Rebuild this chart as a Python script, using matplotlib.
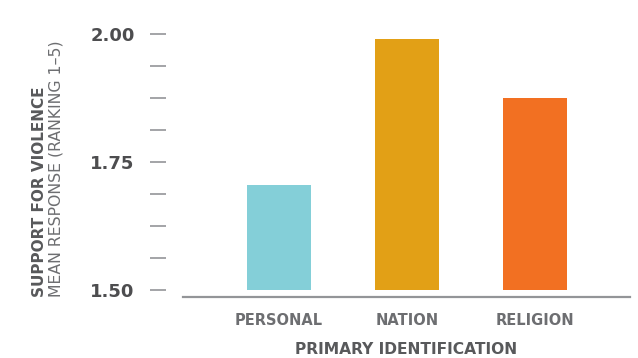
import matplotlib
matplotlib.use("Agg")
import matplotlib.pyplot as plt

categories = ["PERSONAL", "NATION", "RELIGION"]
values = [1.705, 1.990, 1.875]
colors = ["#84CFD8", "#E2A016", "#F27022"]
major_ticks = [1.50, 1.75, 2.00]
minor_ticks = [1.5625, 1.625, 1.6875, 1.8125, 1.875, 1.9375]

W, H = 638, 358
plt.rcParams["font.family"] = ["DejaVu Sans"]
fig = plt.figure(figsize=(W / 100, H / 100), dpi=100)

# axes box in pixel coordinates
left, right, top, bottom = 183, 630, 30, 297
ax = fig.add_axes([left / W, 1 - bottom / H, (right - left) / W, (bottom - top) / H])

base = 1.5
ax.bar(range(len(categories)), [v - base for v in values], bottom=base,
       width=0.5, color=colors)
ax.set_xlim(-0.75, 2.74)
ax.set_ylim(1.486, 2.0078)

for s in ["top", "right"]:
    ax.spines[s].set_visible(False)
ax.spines["left"].set_position(("outward", 12.2))
ax.spines["left"].set_visible(False)
ax.spines["bottom"].set_color("#939598")
ax.spines["bottom"].set_linewidth(1.6)

ax.set_yticks(major_ticks)
ax.set_yticklabels([f"{t:.2f}" for t in major_ticks])
ax.set_yticks(minor_ticks, minor=True)
ax.tick_params(axis="y", which="both", direction="out", length=11.5, width=1.2,
               color="#939598", pad=11)
ax.tick_params(axis="y", which="major", labelsize=13, labelcolor="#4d4d4f")
for lbl in ax.get_yticklabels():
    lbl.set_fontweight("bold")

ax.set_xticks(range(len(categories)))
ax.set_xticklabels(categories, fontsize=10.5, fontweight="bold", color="#6d6e71")
ax.tick_params(axis="x", length=0, pad=11.5)

fig.text(406 / W, 1 - 349 / H, "PRIMARY IDENTIFICATION", ha="center", va="center",
         fontsize=11.2, fontweight="bold", color="#58595b")

fig.text(40 / W, 1 - 297 / H, "SUPPORT FOR VIOLENCE", rotation=90, rotation_mode="anchor",
         ha="left", va="center", fontsize=11, fontweight="bold", color="#58595b")
fig.text(56 / W, 1 - 297 / H, "MEAN RESPONSE (RANKING 1–5)", rotation=90,
         rotation_mode="anchor", ha="left", va="center", fontsize=11.3,
         fontweight="normal", color="#6d6e71")

fig.savefig("out.png", dpi=100)
